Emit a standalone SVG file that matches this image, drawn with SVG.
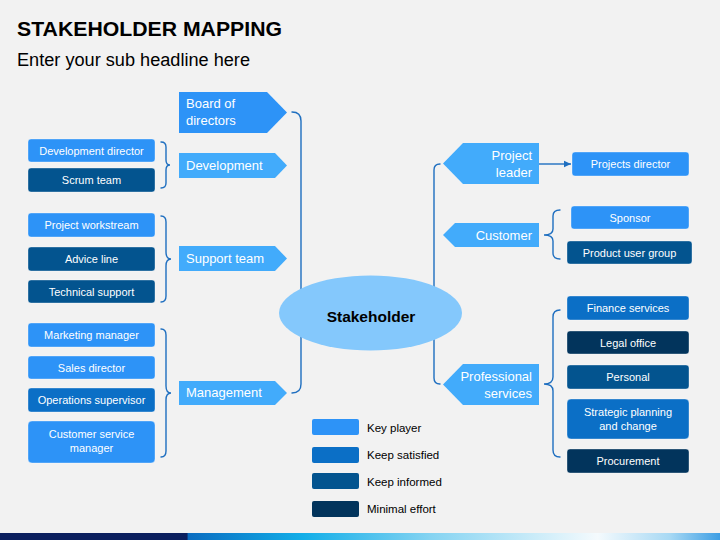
<svg xmlns="http://www.w3.org/2000/svg" width="720" height="540" viewBox="0 0 720 540">
<style>
.t{font-family:"Liberation Sans",Arial,sans-serif}
.kp{fill:#2d93f7}.ks{fill:#0b6fc6}.ki{fill:#03548f}.me{fill:#02345c}
.arr{fill:#42abfb}
.box{stroke:#ffffff;stroke-opacity:0.35;stroke-width:1}
.bt{font-family:"Liberation Sans",Arial,sans-serif;font-size:11px;fill:#fff;text-anchor:middle}
.at{font-family:"Liberation Sans",Arial,sans-serif;font-size:13px;fill:#fff}
.ar{text-anchor:end}
.br{fill:none;stroke:#1f6fc0;stroke-width:1.4;stroke-linecap:round}
.lg{font-family:"Liberation Sans",Arial,sans-serif;font-size:11.5px;fill:#000}
</style>
<defs>
<linearGradient id="bar" x1="0" y1="0" x2="1" y2="0">
<stop offset="0" stop-color="#0b1f5e"/>
<stop offset="0.26" stop-color="#0b1f5e"/>
<stop offset="0.261" stop-color="#0a6cc0"/>
<stop offset="0.42" stop-color="#12aee8"/>
<stop offset="0.6" stop-color="#86d4f2"/>
<stop offset="0.83" stop-color="#f4fafd"/>
<stop offset="0.93" stop-color="#a8d9f4"/>
<stop offset="1" stop-color="#3d9ee4"/>
</linearGradient>
<marker id="ah" markerWidth="8" markerHeight="8" refX="7" refY="4" orient="auto" markerUnits="userSpaceOnUse">
<path d="M0,0.8 L7,4 L0,7.2 Z" fill="#1f6fc0"/>
</marker>
</defs>
<rect width="720" height="540" fill="#f2f2f2"/>
<text class="t" x="17" y="36" font-size="21" font-weight="bold" textLength="265" lengthAdjust="spacingAndGlyphs">STAKEHOLDER MAPPING</text>
<text class="t" x="17" y="66" font-size="18" textLength="233" lengthAdjust="spacingAndGlyphs">Enter your sub headline here</text>

<g id="connectors">
<path class="br" d="M292,112 q9,0 9,9 V306 q0,8 12,8 q-12,0 -12,8 V384 q0,9 -9,9"/>
<path class="br" d="M440,164 q-6,0 -6,6 V306 q0,8 -6,8 q6,0 6,8 V378 q0,6 6,6"/>
<path class="br" d="M161,142 q5,0 5,5 V160 q0,5 4,5 q-4,0 -4,5 V183 q0,5 -5,5"/>
<path class="br" d="M161,216 q5,0 5,6 V252 q0,7 5,7 q-5,0 -5,7 V296 q0,6 -5,6"/>
<path class="br" d="M161,329 q5,0 5,6 V386 q0,7 5,7 q-5,0 -5,7 V451 q0,6 -5,6"/>
<path class="br" d="M560,210 q-7,0 -7,6 V229 q0,6 -9,6 q9,0 9,6 V253 q0,6 7,6"/>
<path class="br" d="M560,310 q-7,0 -7,7 V377 q0,7 -9,7 q9,0 9,7 V450 q0,7 7,7"/>
<line x1="539" y1="164" x2="571" y2="164" stroke="#1f6fc0" stroke-width="1.4" marker-end="url(#ah)"/>
</g>

<g id="stakeholder">
<ellipse cx="370.5" cy="313" rx="91.5" ry="37.5" fill="#84c8fc"/>
<text class="t" x="371" y="322" font-size="15.5" font-weight="bold" text-anchor="middle">Stakeholder</text>
</g>

<g id="board">
<polygon class="kp" points="179,92 267,92 287,112.5 267,133 179,133"/>
<text class="at" x="186" y="108">Board of</text>
<text class="at" x="186" y="125">directors</text>
</g>
<g id="development">
<polygon class="arr" points="179,153 275,153 287,165.5 275,178 179,178"/>
<text class="at" x="186" y="170">Development</text>
</g>
<g id="support">
<polygon class="arr" points="179,246 275,246 287,258.5 275,271 179,271"/>
<text class="at" x="186" y="263">Support team</text>
</g>
<g id="management">
<polygon class="arr" points="179,381 275,381 287,393 275,405 179,405"/>
<text class="at" x="186" y="397">Management</text>
</g>

<g id="dev-director"><rect class="kp box" x="28" y="139" width="127" height="23" rx="3"/><text class="bt" x="91.5" y="154.5">Development director</text></g>
<g id="scrum"><rect class="ki box" x="28" y="168" width="127" height="24" rx="3"/><text class="bt" x="91.5" y="184">Scrum team</text></g>
<g id="workstream"><rect class="kp box" x="28" y="213" width="127" height="24" rx="3"/><text class="bt" x="91.5" y="229">Project workstream</text></g>
<g id="advice"><rect class="ki box" x="28" y="247" width="127" height="24" rx="3"/><text class="bt" x="91.5" y="263">Advice line</text></g>
<g id="technical"><rect class="ki box" x="28" y="280" width="127" height="23" rx="3"/><text class="bt" x="91.5" y="296">Technical support</text></g>
<g id="marketing"><rect class="kp box" x="28" y="323" width="127" height="24" rx="3"/><text class="bt" x="91.5" y="339">Marketing manager</text></g>
<g id="sales"><rect class="kp box" x="28" y="356" width="127" height="23" rx="3"/><text class="bt" x="91.5" y="372">Sales director</text></g>
<g id="operations"><rect class="ks box" x="28" y="388" width="127" height="24" rx="3"/><text class="bt" x="91.5" y="404">Operations supervisor</text></g>
<g id="customer-service"><rect class="kp box" x="28" y="421" width="127" height="42" rx="4"/><text class="bt" x="91.5" y="438">Customer service</text><text class="bt" x="91.5" y="452">manager</text></g>

<g id="project-leader">
<polygon class="arr" points="539,143 463,143 443,163.5 463,184 539,184"/>
<text class="at ar" x="532" y="160">Project</text>
<text class="at ar" x="532" y="177">leader</text>
</g>
<g id="customer">
<polygon class="arr" points="539,223 455,223 443,235 455,247 539,247"/>
<text class="at ar" x="532" y="239.5">Customer</text>
</g>
<g id="professional">
<polygon class="arr" points="539,364 463,364 443,384.5 463,405 539,405"/>
<text class="at ar" x="532" y="381">Professional</text>
<text class="at ar" x="532" y="398">services</text>
</g>

<g id="projects-director"><rect class="kp box" x="572" y="152" width="117" height="24" rx="3"/><text class="bt" x="630.5" y="168">Projects director</text></g>
<g id="sponsor"><rect class="kp box" x="571" y="206" width="118" height="23" rx="3"/><text class="bt" x="630" y="222">Sponsor</text></g>
<g id="product-user"><rect class="ki box" x="567" y="241" width="125" height="23" rx="3"/><text class="bt" x="629.5" y="257">Product user group</text></g>
<g id="finance"><rect class="ks box" x="567" y="296" width="122" height="24" rx="3"/><text class="bt" x="628" y="312">Finance services</text></g>
<g id="legal"><rect class="me box" x="567" y="331" width="122" height="23" rx="3"/><text class="bt" x="628" y="347">Legal office</text></g>
<g id="personal"><rect class="ki box" x="567" y="365" width="122" height="24" rx="3"/><text class="bt" x="628" y="381">Personal</text></g>
<g id="strategic"><rect class="ks box" x="567" y="399" width="122" height="40" rx="4"/><text class="bt" x="628" y="416">Strategic planning</text><text class="bt" x="628" y="430">and change</text></g>
<g id="procurement"><rect class="me box" x="567" y="449" width="122" height="24" rx="3"/><text class="bt" x="628" y="465">Procurement</text></g>

<g id="legend">
<rect class="kp" x="312" y="419" width="47" height="16" rx="2"/><text class="lg" x="367" y="432">Key player</text>
<rect class="ks" x="312" y="447" width="47" height="16" rx="2"/><text class="lg" x="367" y="459">Keep satisfied</text>
<rect class="ki" x="312" y="473" width="47" height="16" rx="2"/><text class="lg" x="367" y="486">Keep informed</text>
<rect class="me" x="312" y="501" width="47" height="16" rx="2"/><text class="lg" x="367" y="513">Minimal effort</text>
</g>

<rect x="0" y="533" width="720" height="7" fill="url(#bar)"/>
</svg>
